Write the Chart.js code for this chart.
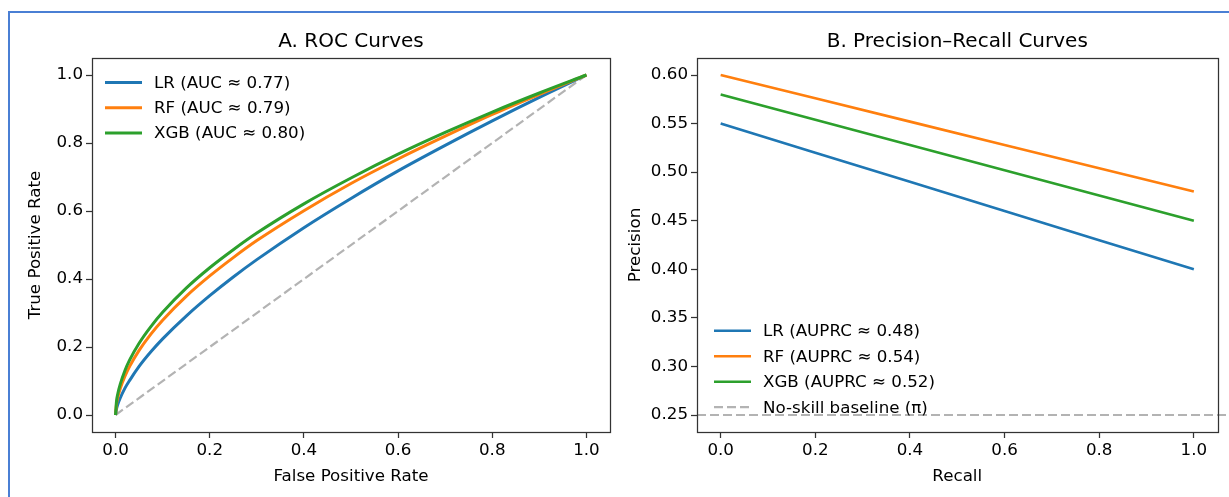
<!DOCTYPE html>
<html><head><meta charset="utf-8">
<script src="https://cdn.jsdelivr.net/npm/chart.js@4.4.1/dist/chart.umd.min.js"></script>
<style>
html,body{margin:0;padding:0;background:#fff;width:1229px;height:497px;overflow:hidden;}
#frame{position:absolute;left:8px;top:11px;width:1300px;height:600px;border:2px solid #4a7fd4;box-sizing:border-box;}
canvas{position:absolute;top:0;}
#c1{left:0}
#c2{left:615px}
</style></head><body>
<div id="frame"></div>
<canvas id="c1" width="615" height="497"></canvas>
<canvas id="c2" width="614" height="497"></canvas>
<script>
// ---------- data ----------
const rocTitle = 'A. ROC Curves';
const prTitle = 'B. Precision\u2013Recall Curves';
const fpr    = [0, 0.002, 0.005, 0.01, 0.02, 0.03, 0.05, 0.075, 0.1, 0.15, 0.2, 0.25, 0.3, 0.4, 0.5, 0.6, 0.7, 0.8, 0.9, 1.0];
const tprLR  = [0, 0.018, 0.032, 0.050, 0.079, 0.102, 0.143, 0.186, 0.224, 0.291, 0.351, 0.406, 0.457, 0.551, 0.637, 0.718, 0.793, 0.865, 0.934, 1.0];
const tprRF  = [0, 0.032, 0.053, 0.078, 0.114, 0.143, 0.190, 0.238, 0.279, 0.349, 0.409, 0.463, 0.513, 0.601, 0.681, 0.753, 0.820, 0.884, 0.943, 1.0];
const tprXGB = [0, 0.040, 0.064, 0.091, 0.131, 0.162, 0.211, 0.260, 0.302, 0.373, 0.433, 0.486, 0.535, 0.621, 0.697, 0.767, 0.831, 0.891, 0.947, 1.0];
const chanceX = [0, 1];
const chanceY = [0, 1];
const rocLabels = ['LR (AUC \u2248 0.77)', 'RF (AUC \u2248 0.79)', 'XGB (AUC \u2248 0.80)'];

const recall = [0, 0.2, 0.4, 0.6, 0.8, 1.0];
const precLR  = [0.55, 0.52, 0.49, 0.46, 0.43, 0.40];
const precRF  = [0.60, 0.576, 0.552, 0.528, 0.504, 0.48];
const precXGB = [0.58, 0.554, 0.528, 0.502, 0.476, 0.45];
const baselinePi = 0.25;
const baselineX = [-0.05, 1.10];
const prLabels = ['LR (AUPRC \u2248 0.48)', 'RF (AUPRC \u2248 0.54)', 'XGB (AUPRC \u2248 0.52)', 'No-skill baseline (\u03c0)'];

const unitTicks = [0, 0.2, 0.4, 0.6, 0.8, 1.0];
const precTicks = [0.25, 0.30, 0.35, 0.40, 0.45, 0.50, 0.55, 0.60];

// ---------- style ----------
const FAM = '"DejaVu Sans", "Liberation Sans", sans-serif';
const C = {blue:'#1f77b4', orange:'#ff7f0e', green:'#2ca02c', gray:'#b3b3b3', axis:'#333'};
const pts = (xs, ys) => xs.map((x, i) => ({x, y: ys[i]}));

const decor = {
  id: 'decor',
  afterDatasetsDraw(chart, args, o) {
    const {ctx, chartArea: a} = chart;
    ctx.save();
    ctx.setLineDash([]);
    ctx.strokeStyle = C.axis; ctx.lineWidth = 1.25;
    ctx.strokeRect(Math.round(a.left) + 0.5, Math.round(a.top) + 0.5, Math.round(a.right - a.left), Math.round(a.bottom - a.top));
    ctx.fillStyle = '#000';
    ctx.font = '20px ' + FAM;
    ctx.textAlign = 'center'; ctx.textBaseline = 'middle';
    ctx.fillText(o.title, (a.left + a.right) / 2, o.titleY);
    ctx.font = '16.7px ' + FAM;
    ctx.textAlign = 'left';
    let y = o.legendY;
    const lx = a.left + o.legendDX;
    chart.data.datasets.forEach(d => {
      if (!d.label) return;
      ctx.beginPath();
      ctx.strokeStyle = d.borderColor; ctx.lineWidth = d.borderWidth;
      ctx.setLineDash(d.borderDash || []);
      ctx.moveTo(lx, y); ctx.lineTo(lx + 37, y); ctx.stroke();
      ctx.setLineDash([]);
      ctx.fillText(d.label, lx + 49, y + 1);
      y += o.rowH;
    });
    ctx.restore();
  }
};

function scale(min, max, ticks, digits, title, titlePad, isX, fit) {
  return {
    type: 'linear', min, max,
    afterBuildTicks: s => { s.ticks = ticks.map(v => ({value: v})); },
    afterFit: s => { if (isX) s.height = fit; else s.width = fit; },
    ticks: {autoSkip: false, maxRotation: 0, padding: 3, color: '#000',
            font: {family: FAM, size: 16.7}, callback: v => Number(v).toFixed(digits)},
    grid: {display: true, drawOnChartArea: false, drawTicks: true, tickLength: 6, tickColor: C.axis, tickWidth: 1.25},
    border: {display: false},
    title: {display: true, text: title, color: '#000', font: {family: FAM, size: 16.7},
            padding: isX ? {top: 0, bottom: titlePad} : {top: titlePad, bottom: 0}}
  };
}

const common = {
  responsive: false, animation: false, events: [],
  plugins: {legend: {display: false}, tooltip: {enabled: false}, title: {display: false}},
  elements: {point: {radius: 0}}
};

new Chart(document.getElementById('c1'), {
  type: 'line',
  data: {datasets: [
    {label: rocLabels[0], data: pts(fpr, tprLR), borderColor: C.blue, borderWidth: 3, cubicInterpolationMode: 'monotone', order: 3},
    {label: rocLabels[1], data: pts(fpr, tprRF), borderColor: C.orange, borderWidth: 3, cubicInterpolationMode: 'monotone', order: 2},
    {label: rocLabels[2], data: pts(fpr, tprXGB), borderColor: C.green, borderWidth: 3, cubicInterpolationMode: 'monotone', order: 1},
    {label: '', data: pts(chanceX, chanceY), borderColor: C.gray, borderWidth: 2.2, borderDash: [9, 4], order: 4}
  ]},
  options: Object.assign({}, common, {
    layout: {padding: {top: 58, right: 5, left: 0, bottom: 0}},
    scales: {
      x: scale(-0.05, 1.05, unitTicks, 1, 'False Positive Rate', 10.5, true, 65),
      y: scale(-0.05, 1.05, unitTicks, 1, 'True Positive Rate', 26, false, 92)
    },
    plugins: Object.assign({}, common.plugins, {decor: {title: rocTitle, titleY: 42, legendDX: 13, legendY: 82.5, rowH: 25.2}})
  }),
  plugins: [decor]
});

new Chart(document.getElementById('c2'), {
  type: 'line',
  data: {datasets: [
    {label: prLabels[0], data: pts(recall, precLR), borderColor: C.blue, borderWidth: 2.6, order: 4},
    {label: prLabels[1], data: pts(recall, precRF), borderColor: C.orange, borderWidth: 2.6, order: 3},
    {label: prLabels[2], data: pts(recall, precXGB), borderColor: C.green, borderWidth: 2.6, order: 2},
    {label: prLabels[3], data: pts(baselineX, [baselinePi, baselinePi]), borderColor: C.gray, borderWidth: 2.2, borderDash: [9, 4], order: 1,
     clip: {left: 0, top: 0, right: false, bottom: 0}}
  ]},
  options: Object.assign({}, common, {
    layout: {padding: {top: 58, right: 11.5, left: 0, bottom: 0}},
    scales: {
      x: scale(-0.05, 1.05, unitTicks, 1, 'Recall', 10.5, true, 65),
      y: scale(0.2325, 0.6175, precTicks, 2, 'Precision', 11, false, 82)
    },
    plugins: Object.assign({}, common.plugins, {decor: {title: prTitle, titleY: 42, legendDX: 17, legendY: 330.7, rowH: 25.5}})
  }),
  plugins: [decor]
});
</script>
</body></html>
